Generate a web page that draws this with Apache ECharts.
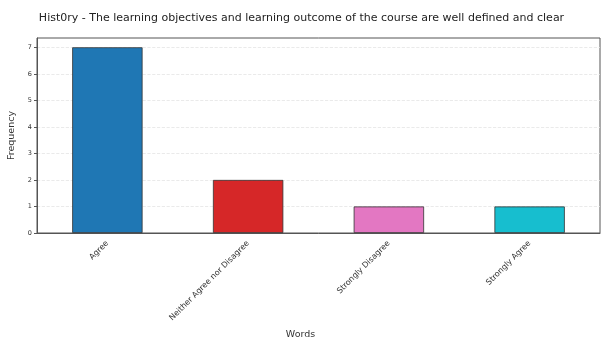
<!DOCTYPE html>
<html><head><meta charset="utf-8">
<script src="https://cdn.jsdelivr.net/npm/echarts@6/dist/echarts.min.js"></script>
<style>html,body{margin:0;padding:0;background:#fff}#c{width:603px;height:341px}</style>
</head><body><div id="c"></div>
<script>
const categories = ["Agree", "Neither Agree nor Disagree", "Strongly Disagree", "Strongly Agree"];
const frequencies = [7, 2, 1, 1];
const barColors = ["#1f77b4", "#d62728", "#e377c2", "#17becf"];
const titleText = "Hist0ry - The learning objectives and learning outcome of the course are well defined and clear";

const chart = echarts.init(document.getElementById('c'));
chart.setOption({
  animation: false,
  title: {text: titleText, left: 'center', top: 8,
    textStyle: {fontFamily: 'DejaVu Sans', fontSize: 11, fontWeight: 'normal', color: '#222'}},
  grid: {left: 37, right: 3, top: 38, bottom: 108, outerBoundsMode: 'none', containLabel: false,
    show: true, borderColor: '#555', borderWidth: 1, backgroundColor: 'transparent'},
  xAxis: {type: 'category', data: categories, name: 'Words', nameLocation: 'middle', nameGap: 96,
    nameTextStyle: {fontFamily: 'DejaVu Sans', fontSize: 9.5, color: '#333', padding: [0, 36, 0, 0]},
    axisLine: {lineStyle: {color: '#555'}}, axisTick: {alignWithLabel: true, length: 3, lineStyle: {color: '#555'}},
    axisLabel: {rotate: 45, fontFamily: 'DejaVu Sans', fontSize: 8, color: '#333', margin: 9}},
  yAxis: {type: 'value', min: 0, max: 7.35, interval: 1, name: 'Frequency', nameLocation: 'middle', nameGap: 17,
    nameTextStyle: {fontFamily: 'DejaVu Sans', fontSize: 9.5, color: '#333'},
    axisLine: {show: true, lineStyle: {color: '#555'}}, axisTick: {show: true, length: 3, lineStyle: {color: '#555'}},
    axisLabel: {showMaxLabel: false, fontFamily: 'DejaVu Sans', fontSize: 6.5, color: '#333', margin: 5},
    splitLine: {show: true, showMaxLine: false, showMinLine: false, lineStyle: {color: '#e4e4e4', type: 'dashed', width: 0.8}}},
  series: [{type: 'bar', barWidth: '50%',
    data: frequencies.map((v, i) => ({value: v, itemStyle: {color: barColors[i], borderColor: '#333', borderWidth: 0.8}}))}]
});
</script></body></html>
